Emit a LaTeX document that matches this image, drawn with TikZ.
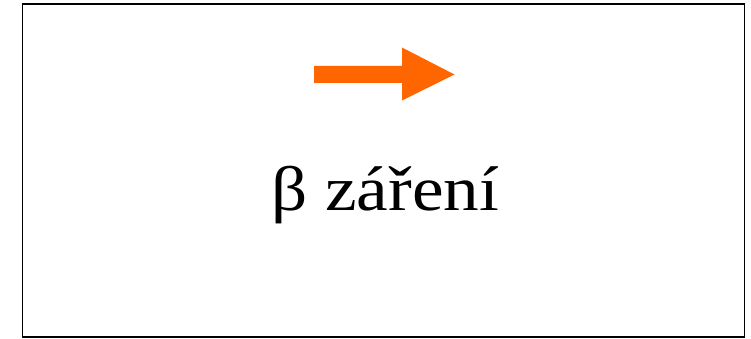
\documentclass[tikz,border=0pt]{standalone}
\usepackage{fontspec}
\setmainfont{Liberation Serif}
\definecolor{betaorange}{RGB}{255,102,0}
\begin{document}
\begin{tikzpicture}[x=1pt,y=-1pt]
	\useasboundingbox (0,0) rectangle (751,339);
	\draw[line width=1.6pt](22.5,4)rectangle(744.5,337);
	\fill[betaorange](314,66)--(402,66)--(402,47.5)--(454.5,74.5)--(402,100.5)--(402,83)--(314,83)--cycle;
	\node (label) at (385,210) [anchor=base,inner sep=0pt,xscale=1.13] {\fontsize{63}{66}\selectfont β záření};
\end{tikzpicture}
\end{document}
